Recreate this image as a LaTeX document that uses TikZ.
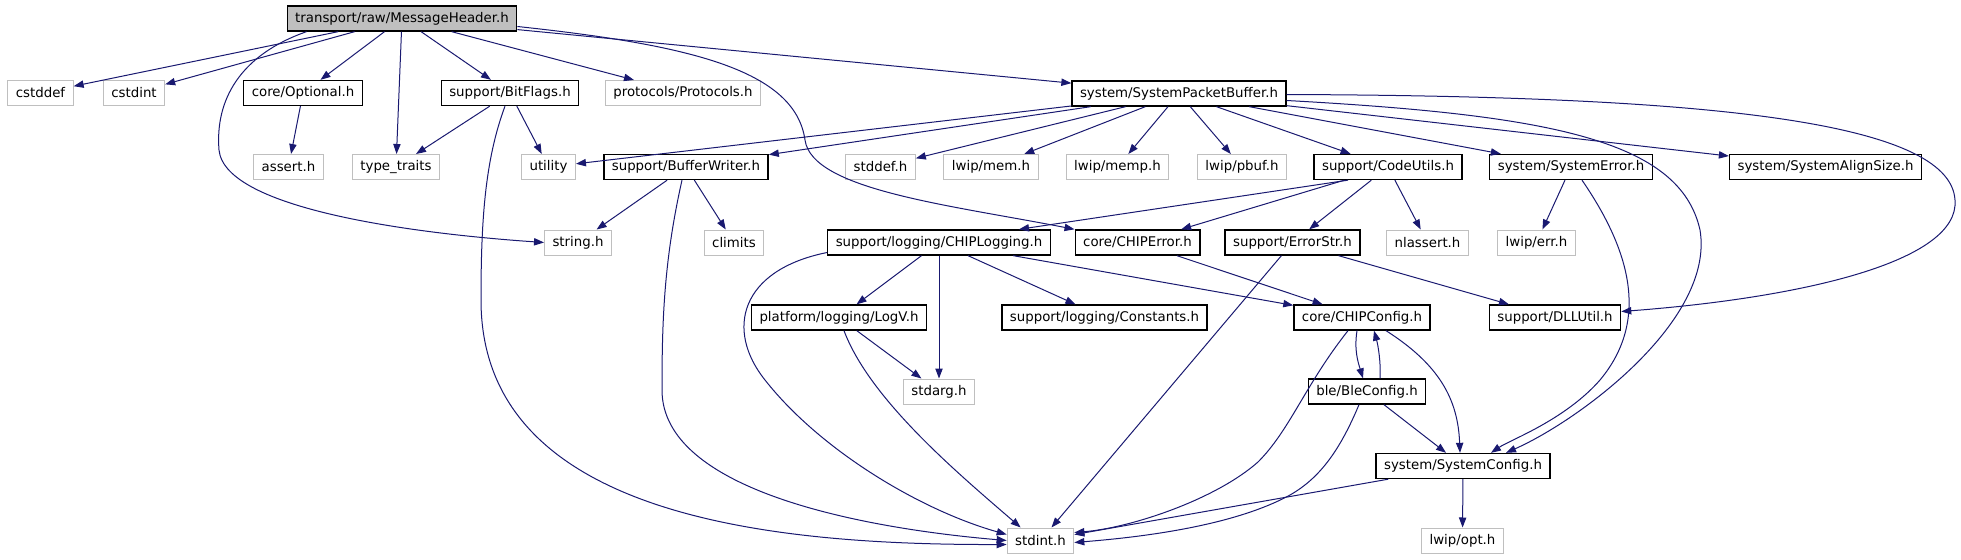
\documentclass[tikz,border=0pt]{standalone}
\usepackage{fontspec}
\setmainfont{DejaVu Sans}
\usetikzlibrary{arrows.meta, calc}
\definecolor{edgeblue}{HTML}{191970}
\definecolor{extgrey}{HTML}{BFBFBF}

\begin{document}
\begin{tikzpicture}[x=0.75pt, y=-0.75pt,
    every node/.style={font=\fontsize{10}{12}\selectfont},
    ext/.style={rectangle, draw=extgrey, fill=white, line width=0.75pt,
                minimum height=18.75pt, inner xsep=6pt, inner ysep=0pt},
    doc/.style={ext, draw=black, line width=1pt},
    hdr/.style={doc, fill=extgrey},
    inc/.style={draw=edgeblue, line width=0.75pt, -{Triangle[length=7.5pt, width=5.5pt]}}
]
    \useasboundingbox (0,0) rectangle (1961,560);

    % row 0
    \node[hdr] (mh)         at (402, 18.5)  {transport/raw/MessageHeader.h};
    % row 1
    \node[ext] (cstddef)    at (40.5, 93)   {cstddef};
    \node[ext] (cstdint)    at (134, 93)    {cstdint};
    \node[doc] (optional)   at (303, 93)    {core/Optional.h};
    \node[doc] (bitflags)   at (510, 93)    {support/BitFlags.h};
    \node[ext] (protocols)  at (683, 93)    {protocols/Protocols.h};
    \node[doc] (spb)        at (1179, 93.5) {system/SystemPacketBuffer.h};
    % row 2
    \node[ext] (assert)     at (288.5, 167) {assert.h};
    \node[ext] (typetraits) at (396, 167)   {type\_traits};
    \node[ext] (utility)    at (548.5, 167) {utility};
    \node[doc] (bufwriter)  at (686, 167)   {support/BufferWriter.h};
    \node[ext] (stddefh)    at (880.5, 167) {stddef.h};
    \node[ext] (lwipmem)    at (991, 167)   {lwip/mem.h};
    \node[ext] (lwipmemp)   at (1117.5, 167) {lwip/memp.h};
    \node[ext] (lwippbuf)   at (1242, 167)  {lwip/pbuf.h};
    \node[doc] (codeutils)  at (1388, 167)  {support/CodeUtils.h};
    \node[doc] (syserror)   at (1571, 167)  {system/SystemError.h};
    \node[doc] (alignsize)  at (1825.5, 167) {system/SystemAlignSize.h};
    % row 3
    \node[ext] (stringh)    at (578, 242.5)  {string.h};
    \node[ext] (climits)    at (734, 242.5)  {climits};
    \node[doc] (chiplog)    at (939, 242.5)  {support/logging/CHIPLogging.h};
    \node[doc] (chiperror)  at (1137.5, 242.5) {core/CHIPError.h};
    \node[doc] (errorstr)   at (1292.5, 242.5) {support/ErrorStr.h};
    \node[ext] (nlassert)   at (1427.5, 242.5) {nlassert.h};
    \node[ext] (lwiperr)    at (1536.5, 242.5) {lwip/err.h};
    % row 4
    \node[doc] (logv)       at (839, 317.5)  {platform/logging/LogV.h};
    \node[doc] (constants)  at (1104.5, 317.5) {support/logging/Constants.h};
    \node[doc] (chipconfig) at (1362, 317.5) {core/CHIPConfig.h};
    \node[doc] (dllutil)    at (1555, 317.5) {support/DLLUtil.h};
    % row 5
    \node[ext] (stdarg)     at (939, 391.5)  {stdarg.h};
    \node[doc] (bleconfig)  at (1367, 391.5) {ble/BleConfig.h};
    % row 6
    \node[doc] (sysconfig)  at (1463, 466)   {system/SystemConfig.h};
    % row 7
    \node[ext] (stdint)     at (1040.5, 540.5) {stdint.h};
    \node[ext] (lwipopt)    at (1462.5, 540.5) {lwip/opt.h};

    % MessageHeader.h
    \draw[inc] (mh) -- (cstddef);
    \draw[inc] (mh) -- (cstdint);
    \draw[inc] (mh) -- (optional);
    \draw[inc] (mh) -- (typetraits);
    \draw[inc] (mh) -- (bitflags);
    \draw[inc] (mh) -- (protocols);
    \draw[inc] (mh) -- (spb);
    \draw[inc] ($(mh.south west)+(20,0)$) .. controls (240,55) and (215,100) .. (219,150)
        .. controls (225,210) and (420,234) .. (stringh.west);
    \draw[inc] ($(mh.east)+(0,8)$) .. controls (690,45) and (795,70) .. (805,140)
        .. controls (812,190) and (950,205) .. (chiperror.north west);

    % second row
    \draw[inc] (optional) -- (assert);
    \draw[inc] (bitflags) -- (typetraits);
    \draw[inc] (bitflags) -- (utility);
    \draw[inc] ($(bitflags.south)+(-5,0)$) .. controls (485,160) and (481,220) .. (481,300)
        .. controls (481,520) and (780,545) .. ($(stdint.west)+(0,4)$);

    % SystemPacketBuffer.h
    \draw[inc] (spb) -- (utility);
    \draw[inc] (spb) -- (bufwriter);
    \draw[inc] (spb) -- (stddefh);
    \draw[inc] (spb) -- (lwipmem);
    \draw[inc] (spb) -- (lwipmemp);
    \draw[inc] (spb) -- (lwippbuf);
    \draw[inc] (spb) -- (codeutils);
    \draw[inc] (spb) -- (syserror);
    \draw[inc] (spb) -- (alignsize);
    \draw[inc] ($(spb.east)+(0,7)$) .. controls (1550,115) and (1680,140) .. (1700,230)
        .. controls (1715,320) and (1580,420) .. ($(sysconfig.north)+(43,0)$);
    \draw[inc] ($(spb.east)+(0,1)$) .. controls (1700,96) and (1950,120) .. (1955,200)
        .. controls (1960,262) and (1800,298) .. ($(dllutil.east)+(0,-6)$);

    % third row
    \draw[inc] (bufwriter) -- (stringh);
    \draw[inc] (bufwriter) -- (climits);
    \draw[inc] ($(bufwriter.south)+(-4,0)$) .. controls (664,260) and (662,320) .. (662,390)
        .. controls (662,490) and (860,528) .. (stdint.west);
    \draw[inc] ($(codeutils.south)+(-40,0)$) -- ($(chiplog.north)+(80,0)$);
    \draw[inc] (codeutils) -- (chiperror);
    \draw[inc] (codeutils) -- (errorstr);
    \draw[inc] (codeutils) -- (nlassert);
    \draw[inc] (syserror) -- (lwiperr);
    \draw[inc] ($(syserror.south)+(11,0)$) .. controls (1630,250) and (1650,320) .. (1600,380)
        .. controls (1565,420) and (1510,440) .. ($(sysconfig.north)+(28,0)$);

    % logging and errors
    \draw[inc] (chiplog) -- (logv);
    \draw[inc] (chiplog) -- (stdarg);
    \draw[inc] (chiplog) -- (constants);
    \draw[inc] (chiplog) -- (chipconfig);
    \draw[inc] ($(chiplog.west)+(0,10)$) .. controls (740,270) and (725,330) .. (765,380)
        .. controls (820,450) and (920,510) .. ($(stdint.west)+(0,-6)$);
    \draw[inc] (chiperror) -- (chipconfig);
    \draw[inc] (errorstr) -- (dllutil);
    \draw[inc] (errorstr) -- (stdint);
    \draw[inc] (logv) -- (stdarg);
    \draw[inc] ($(logv.south)+(5,0)$) .. controls (870,400) and (960,475) .. ($(stdint.north west)+(14,0)$);

    % config
    \draw[inc] ($(chipconfig.south)+(-5,0)$) .. controls (1354,350) and (1358,362) .. ($(bleconfig.north)+(-4,0)$);
    \draw[inc] ($(bleconfig.north)+(13,0)$) .. controls (1381,362) and (1378,345) .. ($(chipconfig.south)+(12,0)$);
    \draw[inc] ($(chipconfig.south)+(24,0)$) .. controls (1440,365) and (1458,400) .. ($(sysconfig.north)+(-3,0)$);
    \draw[inc] ($(chipconfig.south)+(-14,0)$) .. controls (1305,385) and (1290,430) .. (1258,462)
        .. controls (1215,500) and (1130,528) .. ($(stdint.east)+(0,-8)$);
    \draw[inc] (bleconfig) -- (sysconfig);
    \draw[inc] ($(bleconfig.south)+(-8,0)$) .. controls (1340,450) and (1320,478) .. (1290,495)
        .. controls (1230,528) and (1130,538) .. ($(stdint.east)+(0,2)$);
    \draw[inc] (sysconfig) -- (stdint);
    \draw[inc] (sysconfig) -- (lwipopt);
\end{tikzpicture}
\end{document}
